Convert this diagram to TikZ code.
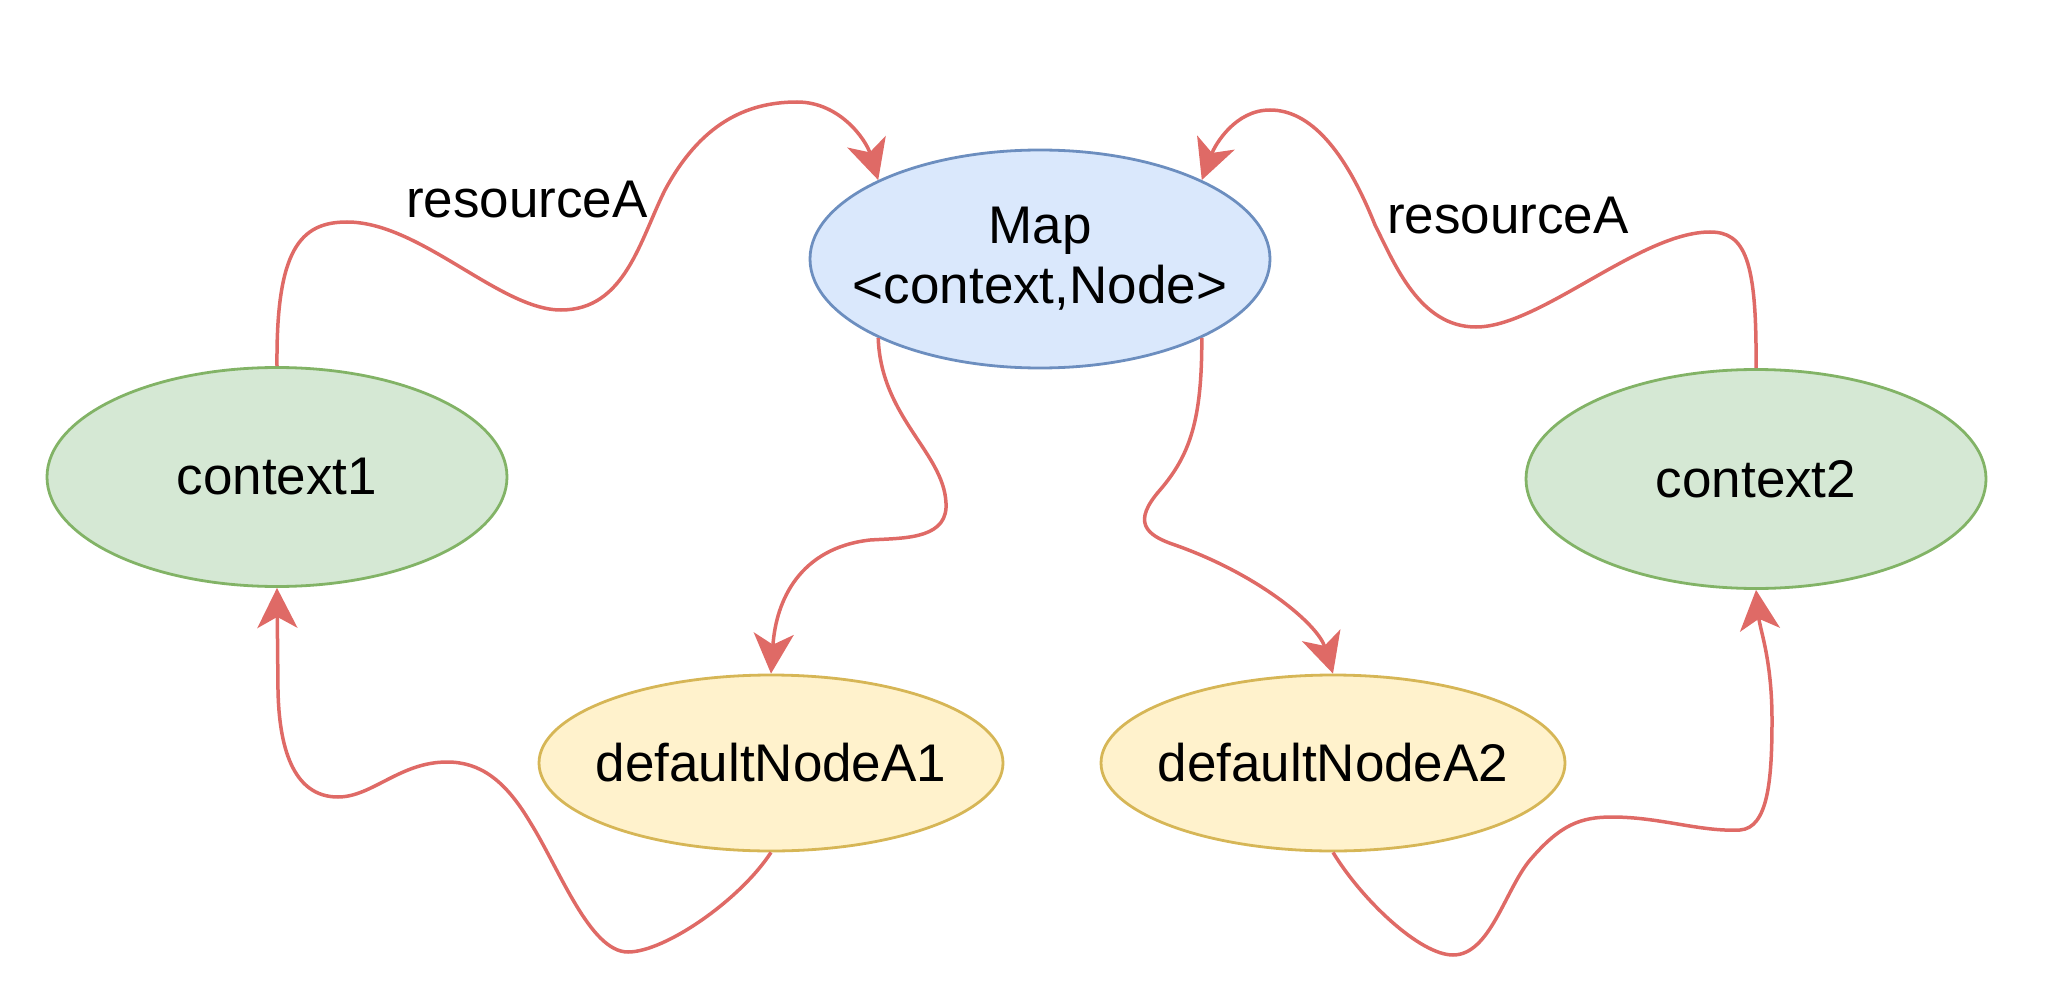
\documentclass[tikz,border=0pt]{standalone}
\usepackage{fontspec}
\setmainfont{Liberation Sans}
\usetikzlibrary{shapes.geometric,arrows.meta}
\definecolor{edgered}{HTML}{DF6A66}
\definecolor{mapfill}{HTML}{DAE8FC}
\definecolor{mapdraw}{HTML}{6C8EBF}
\definecolor{ctxfill}{HTML}{D5E8D4}
\definecolor{ctxdraw}{HTML}{82B366}
\definecolor{deffill}{HTML}{FFF2CC}
\definecolor{defdraw}{HTML}{D6B656}
\tikzset{
  txt/.style={font=\fontsize{53}{62}\selectfont, inner sep=0pt, align=center},
  ell/.style={ellipse, inner sep=0pt, line width=2.8pt},
  mapnode/.style={ell, fill=mapfill, draw=mapdraw, minimum width=460pt, minimum height=218pt},
  ctxnode/.style={ell, fill=ctxfill, draw=ctxdraw, minimum width=460pt, minimum height=219pt},
  defnode/.style={ell, fill=deffill, draw=defdraw, minimum width=464pt, minimum height=176pt},
  link/.style={draw=edgered, line width=3.5pt,
    -{Stealth[length=40pt, width=40pt, inset=11pt]}},
  lbl/.style={txt}
}
\begin{document}
\begin{tikzpicture}[x=1pt, y=-1pt]
\useasboundingbox (0,0) rectangle (2066,992);

\node[mapnode, label={[txt]center:Map\\[-2pt]<context,Node>}] (map) at (1040,259) {};
\node[ctxnode, label={[txt]center:context1}] (ctx1) at (277,477) {};
\node[ctxnode, label={[txt]center:context2}] (ctx2) at (1756,479) {};
\node[defnode, label={[txt]center:defaultNodeA1}] (a1) at (771,763) {};
\node[defnode, label={[txt]center:defaultNodeA2}] (a2) at (1333,763) {};

\node[lbl] (lblA) at (527,200) {resourceA};
\node[lbl] (lblB) at (1508,216) {resourceA};

% context1 -> map
\draw[link] (ctx1.north) .. controls (276,250) and (300,222) .. (347,222)
  .. controls (420,222) and (500,310) .. (561,310)
  .. controls (625,310) and (640,240) .. (665,190)
  .. controls (700,125) and (745,102) .. (797,102)
  .. controls (840,102) and (866,140) .. (map.154);

% context2 -> map
\draw[link] (ctx2.north) .. controls (1757,260) and (1745,232) .. (1710,232)
  .. controls (1640,232) and (1540,327) .. (1476,327)
  .. controls (1420,327) and (1395,265) .. (1375,225)
  .. controls (1345,150) and (1310,110) .. (1270,110)
  .. controls (1235,110) and (1215,145) .. (map.26);

% map -> defaultNodeA1
\draw[link] (map.206) .. controls (881,420) and (948,455) .. (946,508)
  .. controls (944,540) and (900,538) .. (870,540)
  .. controls (800,548) and (776,600) .. (a1.north);

% map -> defaultNodeA2
\draw[link] (map.334) .. controls (1202,420) and (1190,455) .. (1160,490)
  .. controls (1132,522) and (1145,535) .. (1175,545)
  .. controls (1260,575) and (1318,625) .. (a2.north);

% defaultNodeA1 -> context1
\draw[link] (a1.south) .. controls (740,900) and (665,952) .. (628,952)
  .. controls (590,952) and (560,870) .. (530,822)
  .. controls (505,780) and (480,762) .. (447,762)
  .. controls (400,762) and (372,797) .. (338,797)
  .. controls (292,797) and (279,745) .. (278,690)
  -- (ctx1.south);

% defaultNodeA2 -> context2
\draw[link] (a2.south) .. controls (1362,900) and (1420,955) .. (1453,955)
  .. controls (1490,955) and (1505,890) .. (1530,860)
  .. controls (1560,825) and (1580,817) .. (1612,817)
  .. controls (1660,817) and (1700,832) .. (1740,830)
  .. controls (1768,828) and (1772,780) .. (1772,720)
  .. controls (1772,660) and (1760,630) .. (ctx2.south);
\end{tikzpicture}
\end{document}
